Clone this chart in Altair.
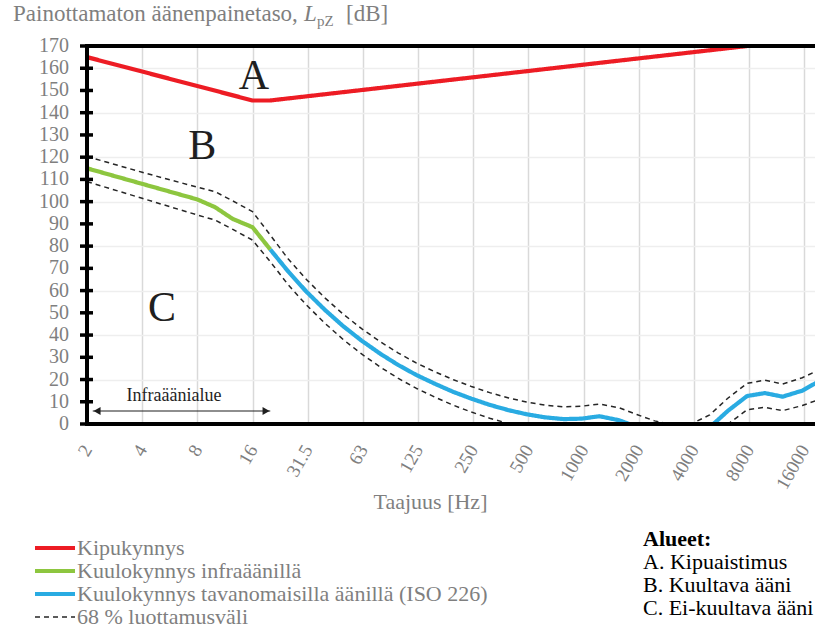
import altair as alt
import pandas as pd

FONT = "Liberation Serif"
GREY = "#7f7f7f"
INK = "#1f1f1f"

# ---------------- data ----------------
series_names = [
    "Kipukynnys",
    "Kuulokynnys infraäänillä",
    "Kuulokynnys tavanomaisilla äänillä (ISO 226)",
    "68 % luottamusväli",
]
series_colors = ["#ed1c24", "#8dc63f", "#29abe2", "#262626"]
style_names = ["68 % luottamusväli", "kiinteä"]
style_dash = [[5, 4], [1, 0]]

red_freq = [2, 16, 20, 8000]
red_db = [165, 145.5, 145.5, 170]

green_freq = [2, 4, 8, 10, 12.5, 16, 20]
green_db = [115, 108, 101, 97.5, 92.2, 88.5, 78.5]

blue_freq = [20, 25, 31.5, 40, 50, 63, 80, 100, 125, 160, 200, 250, 315, 400, 500,
             630, 800, 1000, 1250, 1600, 2000, 2500, 3150, 4000, 5000, 6300, 8000,
             10000, 12500, 16000, 20000]
blue_db = [78.5, 68.7, 59.5, 51.1, 44.0, 37.5, 31.5, 26.5, 22.1, 17.9, 14.4, 11.4, 8.6,
           6.2, 4.4, 3.0, 2.2, 2.4, 3.5, 1.7, -1.3, -4.2, -6.0, -5.4, -1.5, 6.0, 12.6,
           13.9, 12.3, 15.0, 19.5]

ci_freq = [2, 4, 8, 10, 12.5, 16, 20, 25, 31.5, 40, 50, 63, 80, 100, 125, 160, 200, 250,
           315, 400, 500, 630, 800, 1000, 1250, 1600, 2000, 2500, 3150, 4000, 5000, 6300,
           8000, 10000, 12500, 16000, 20000]
ci_upper = [120.3, 113.2, 106.5, 104.5, 100.3, 95.5, 85.0, 74.3, 65.0, 56.5, 49.4, 42.9,
            36.9, 31.9, 27.5, 23.3, 19.9, 16.9, 14.1, 11.7, 9.9, 8.5, 7.7, 8.0, 9.0, 7.3,
            4.3, 1.4, -0.4, 0.2, 4.1, 11.7, 18.3, 19.7, 18.0, 20.8, 24.6]
ci_lower = [109.0, 101.5, 94.0, 91.7, 87.5, 82.7, 73.0, 62.7, 53.5, 45.1, 38.0, 31.5,
            25.5, 20.5, 16.1, 11.9, 8.4, 5.4, 2.6, 0.2, -1.6, -3.0, -3.8, -3.6, -2.5,
            -4.3, -7.3, -10.2, -12.0, -11.4, -7.5, 0.0, 6.4, 7.5, 6.0, 8.3, 11.2]

x_tick_pos = [2, 4, 8, 16, 32, 64, 128, 256, 512, 1024, 2048, 4096, 8192, 16384]
x_tick_labels = ["2", "4", "8", "16", "31.5", "63", "125", "250", "500", "1000",
                 "2000", "4000", "8000", "16000"]
y_tick_values = list(range(0, 171, 10))

letters_text = ["A", "B", "C"]
letters_freq = [16.3, 8.5, 5.13]
letters_db = [150.7, 119.2, 46.3]

infra_text = ["Infraäänialue"]
infra_freq = [5.97]
infra_db = [10.5]
arrow_from = [2.15]
arrow_to = [20.0]
arrow_db = [5.85]
arrowhead_freq = [2.27, 18.97]
arrowhead_shape = ["triangle-left", "triangle-right"]

title_parts = ["Painottamaton äänenpainetaso,", "L", "pZ", "[dB]"]
regions_title = ["Alueet:"]
regions_lines = ["A. Kipuaistimus", "B. Kuultava ääni", "C. Ei-kuultava ääni"]
x_title = "Taajuus [Hz]"

# ---------------- tables ----------------
rows = []
for f, v in zip(red_freq, red_db):
    rows.append({"freq": f, "db": v, "series": series_names[0], "part": "red"})
for f, v in zip(green_freq, green_db):
    rows.append({"freq": f, "db": v, "series": series_names[1], "part": "green"})
for f, v in zip(blue_freq, blue_db):
    rows.append({"freq": f, "db": v, "series": series_names[2], "part": "blue"})
for f, v in zip(ci_freq, ci_upper):
    rows.append({"freq": f, "db": v, "series": series_names[3], "part": "upper"})
for f, v in zip(ci_freq, ci_lower):
    rows.append({"freq": f, "db": v, "series": series_names[3], "part": "lower"})
df = pd.DataFrame(rows)
df["style"] = [style_names[0] if s == series_names[3] else style_names[1]
               for s in df["series"]]

W, H = 728, 378
x_scale = alt.Scale(type="log", base=2, domain=[2, 18770], nice=False)
y_scale = alt.Scale(domain=[0, 170], nice=False, zero=False)

label_expr = ("[" + ",".join("'%s'" % t for t in x_tick_labels) +
              "][round(log(datum.value / 2) / log(2))]")

x_axis = alt.Axis(
    values=x_tick_pos, labelExpr=label_expr, labelAngle=-60, labelFont=FONT,
    labelFontSize=19, labelColor=GREY, labelPadding=22, ticks=False, domain=False,
    gridColor="#d9d9d9", gridWidth=1.5, labelFlush=False, labelOverlap=False,
    title=x_title, titleFont=FONT, titleFontSize=22, titleFontWeight="normal",
    titleColor=GREY, titleX=343, titleY=84, titleBaseline="alphabetic",
    titleAlign="center",
)
y_axis = alt.Axis(
    values=y_tick_values, labels=False, ticks=False, domain=False,
    gridColor="#eeeeee", gridWidth=1.5, title=None,
)

color_legend = alt.Legend(
    title=None, orient="none", legendX=-43, legendY=491, direction="vertical",
    values=series_names[:3],
    symbolType="M-4,0H4", symbolSize=100, symbolStrokeWidth=4,
    labelFont=FONT, labelFontSize=22, labelColor=GREY, labelOffset=11,
    labelLimit=700, rowPadding=1, padding=0,
)
dash_legend = alt.Legend(
    title=None, orient="none", legendX=-43, legendY=560, direction="vertical",
    values=[style_names[0]],
    symbolType="M-4,0H4", symbolSize=100, symbolStrokeWidth=1.5,
    symbolStrokeColor="#262626",
    labelFont=FONT, labelFontSize=22, labelColor=GREY, labelOffset=11,
    labelLimit=700, rowPadding=1, padding=0,
)

lines = alt.Chart(df).mark_line(clip=True, strokeJoin="round").encode(
    x=alt.X("freq:Q", scale=x_scale, axis=x_axis),
    y=alt.Y("db:Q", scale=y_scale, axis=y_axis),
    color=alt.Color("series:N", scale=alt.Scale(domain=series_names, range=series_colors),
                    legend=color_legend),
    strokeDash=alt.StrokeDash("style:N",
                              scale=alt.Scale(domain=style_names, range=style_dash),
                              legend=dash_legend),
    strokeWidth=alt.condition(alt.datum.series == series_names[3], alt.value(1.5),
                              alt.value(4.2)),
    detail="part:N",
)

xq = alt.X("freq:Q", scale=x_scale)
yq = alt.Y("db:Q", scale=y_scale)

letters = alt.Chart(pd.DataFrame({"t": letters_text, "freq": letters_freq,
                                  "db": letters_db})).mark_text(
    font=FONT, fontSize=42, color=INK, align="center", baseline="alphabetic"
).encode(x=xq, y=yq, text="t:N")

infra = alt.Chart(pd.DataFrame({"t": infra_text, "freq": infra_freq,
                                "db": infra_db})).mark_text(
    font=FONT, fontSize=18, color=INK, align="center", baseline="alphabetic"
).encode(x=xq, y=yq, text="t:N")

arrow = alt.Chart(pd.DataFrame({"freq": arrow_from, "freq2": arrow_to,
                                "db": arrow_db})).mark_rule(
    color=INK, strokeWidth=1.2
).encode(x=xq, x2="freq2:Q", y=yq)

heads = alt.Chart(pd.DataFrame({"freq": arrowhead_freq, "db": arrow_db * 2,
                                "shape": arrowhead_shape})).mark_point(
    filled=True, color=INK, size=64, opacity=1
).encode(x=xq, y=yq, shape=alt.Shape("shape:N", scale=None))

ytick_df = pd.DataFrame({"db": y_tick_values, "lab": [str(v) for v in y_tick_values]})
yticks = alt.Chart(ytick_df).mark_rule(color="black", strokeWidth=3.5).encode(
    y=yq, x=alt.value(-7), x2=alt.value(6))
ylabels = alt.Chart(ytick_df).mark_text(
    font=FONT, fontSize=20, color=GREY, align="right", baseline="middle"
).encode(y=yq, x=alt.value(-18), text="lab:N")

one = pd.DataFrame({"k": [0]})
border_top = alt.Chart(one).mark_rule(color="black", strokeWidth=4).encode(
    x=alt.value(-2), x2=alt.value(W), y=alt.value(0))
border_bottom = alt.Chart(one).mark_rule(color="black", strokeWidth=4).encode(
    x=alt.value(-2), x2=alt.value(W), y=alt.value(H))
border_left = alt.Chart(one).mark_rule(color="black", strokeWidth=4).encode(
    x=alt.value(0), y=alt.value(-2), y2=alt.value(H + 2))


def label(text, x, y, size, color=GREY, weight="normal", style="normal"):
    return alt.Chart(pd.DataFrame({"t": [text]})).mark_text(
        font=FONT, fontSize=size, color=color, align="left", baseline="alphabetic",
        fontWeight=weight, fontStyle=style
    ).encode(x=alt.value(x), y=alt.value(y), text="t:N")


t1 = label(title_parts[0], -74, -25, 23)
t2 = label(title_parts[1], 217, -25, 23, style="italic")
t3 = label(title_parts[2], 230, -20, 15)
t4 = label(title_parts[3], 259, -25, 23)

reg_title = label(regions_title[0], 556, 500, 22, color="black", weight="bold")
reg_lines = alt.Chart(pd.DataFrame({"t": ["\n".join(regions_lines)]})).mark_text(
    font=FONT, fontSize=22, color="black", align="left", baseline="alphabetic",
    lineBreak="\n", lineHeight=23
).encode(x=alt.value(556), y=alt.value(523), text="t:N")

chart = alt.layer(
    lines, letters, infra, arrow, heads, border_top, border_bottom, border_left, yticks,
    ylabels, t1, t2, t3, t4, reg_title, reg_lines
).properties(
    width=W, height=H,
    padding={"left": 87, "top": 46, "right": 0, "bottom": 206},
    autosize=alt.AutoSizeParams(type="none"),
).configure_view(stroke=None).configure(background="white")

chart.save("out.html", embed_options={"renderer": "svg", "actions": False})
